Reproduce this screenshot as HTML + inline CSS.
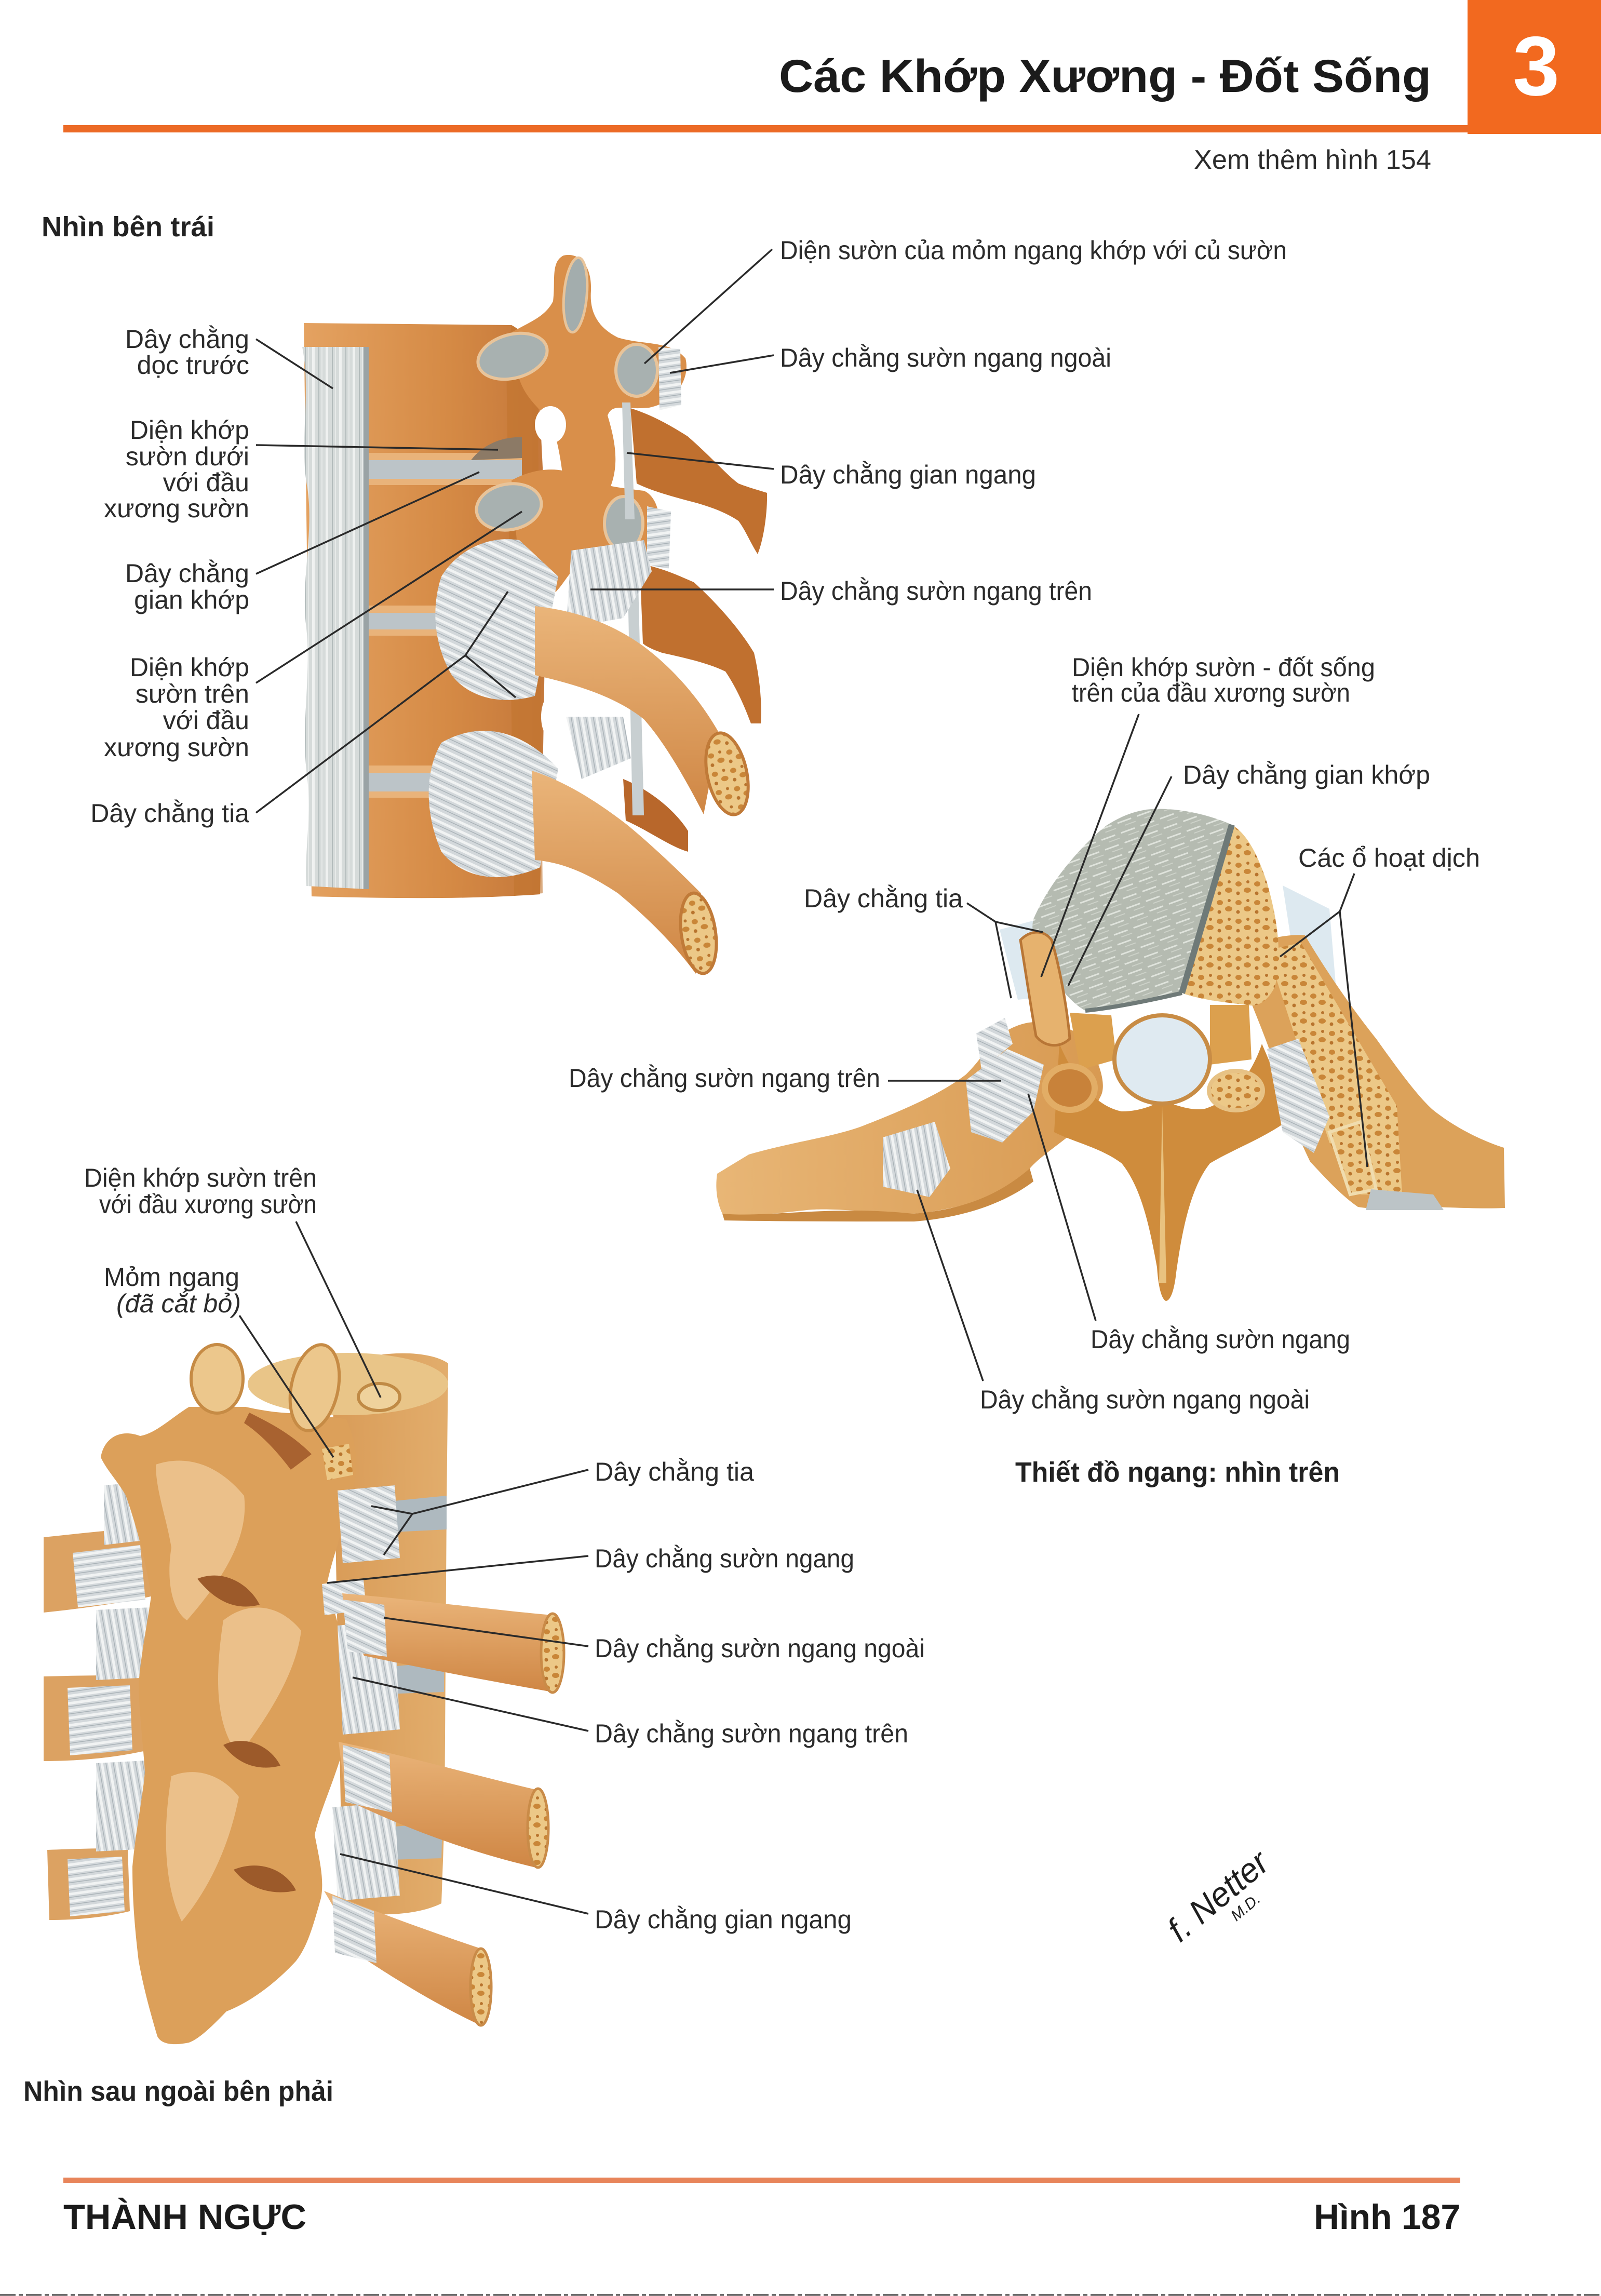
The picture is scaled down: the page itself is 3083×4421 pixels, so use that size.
<!DOCTYPE html>
<html><head><meta charset="utf-8"><style>
html,body{margin:0;padding:0;background:#fff}
svg{display:block}
text{font-family:"Liberation Sans",Arial,sans-serif}
</style></head><body>
<svg width="3083" height="4421" viewBox="0 0 3083 4421" xmlns="http://www.w3.org/2000/svg">
<defs>
<pattern id="fib" width="16" height="16" patternUnits="userSpaceOnUse" patternTransform="rotate(25)"><rect width="16" height="16" fill="#d3d8db"/><rect y="2" width="16" height="5" fill="#f1f3f3"/><rect y="11" width="16" height="1.5" fill="#a9b2b7"/></pattern>
<pattern id="fibv" width="14" height="14" patternUnits="userSpaceOnUse" patternTransform="rotate(80)"><rect width="14" height="14" fill="#d3d8db"/><rect y="2" width="14" height="5" fill="#f1f3f3"/><rect y="10" width="14" height="1.5" fill="#a9b2b7"/></pattern>
<pattern id="fibh" width="14" height="14" patternUnits="userSpaceOnUse" patternTransform="rotate(-8)"><rect width="14" height="14" fill="#d3d8db"/><rect y="2" width="14" height="5" fill="#f1f3f3"/><rect y="10" width="14" height="1.5" fill="#a9b2b7"/></pattern>
<pattern id="alig" width="26" height="40" patternUnits="userSpaceOnUse"><rect width="26" height="40" fill="#d6dbda"/><rect x="3" width="5" height="40" fill="#eff1f0"/><rect x="15" width="2" height="40" fill="#b3bcbc"/><rect x="21" width="2" height="40" fill="#e6e9e8"/></pattern>
<pattern id="canc" width="36" height="36" patternUnits="userSpaceOnUse"><rect width="36" height="36" fill="#ecc887"/><ellipse cx="9" cy="10" rx="6" ry="5" fill="#c98638"/><ellipse cx="26" cy="22" rx="7" ry="5" fill="#c98638"/><circle cx="27" cy="6" r="3" fill="#b8742e"/><circle cx="8" cy="28" r="3.5" fill="#b8742e"/></pattern>
<pattern id="disc" width="40" height="20" patternUnits="userSpaceOnUse" patternTransform="rotate(-20)"><rect width="40" height="20" fill="#b5bbb1"/><rect y="4" width="28" height="3" fill="#dfe3dc"/><rect x="12" y="13" width="22" height="2" fill="#ccd1c8"/></pattern>
<linearGradient id="bodyG" x1="0" x2="1" y1="0" y2="0"><stop offset="0" stop-color="#e4a261"/><stop offset="0.6" stop-color="#d58a45"/><stop offset="1" stop-color="#c4773a"/></linearGradient>
<linearGradient id="ribG" x1="0" x2="0" y1="0" y2="1"><stop offset="0" stop-color="#eab57a"/><stop offset="1" stop-color="#cf8644"/></linearGradient>
<linearGradient id="leftP" x1="0" x2="1" y1="0" y2="0"><stop offset="0" stop-color="#e8b676"/><stop offset="1" stop-color="#d89a52"/></linearGradient>
<linearGradient id="colG" x1="0" x2="1" y1="0" y2="0"><stop offset="0" stop-color="#d99c58"/><stop offset="1" stop-color="#e2ad6c"/></linearGradient>
</defs>
<rect width="3083" height="4421" fill="#fff"/>

<!-- HEADER -->
<rect x="2826" y="0" width="257" height="258" fill="#f2691f"/>
<rect x="122" y="241" width="2706" height="14" fill="#ec6a26"/>
<text x="1500" y="177" font-size="89" font-weight="bold" fill="#1b1b1b" textLength="1256" lengthAdjust="spacingAndGlyphs">Các Khớp Xương - Đốt Sống</text>
<text x="2913" y="183" font-size="162" font-weight="bold" fill="#ffffff">3</text>
<text x="2299" y="325" font-size="52" fill="#2b2b2b" textLength="457" lengthAdjust="spacingAndGlyphs">Xem thêm hình 154</text>
<text x="80" y="455" font-size="54" font-weight="bold" fill="#222" textLength="333" lengthAdjust="spacingAndGlyphs">Nhìn bên trái</text>

<!-- ================= TOP-LEFT ILLUSTRATION ================= -->
<g>
<path d="M1214 786 C1260 800 1300 825 1324 840 C1370 880 1400 915 1422 931 C1445 940 1465 945 1477 949 C1478 990 1470 1040 1459 1067 C1445 1045 1435 1020 1422 1003 C1395 985 1365 975 1336 967 C1290 955 1255 945 1226 931 Z" fill="#c0702f"/>
<path d="M1232 1085 C1280 1095 1310 1110 1336 1121 C1390 1170 1430 1220 1452 1257 C1462 1300 1468 1350 1465 1393 L1446 1393 C1430 1350 1415 1320 1397 1293 C1360 1275 1310 1265 1275 1257 C1255 1250 1245 1245 1238 1239 Z" fill="#c0702f"/>
<path d="M1200 1500 C1250 1520 1300 1560 1325 1600 L1325 1640 C1290 1630 1250 1600 1205 1580 Z" fill="#b8672b"/>
<path d="M585 622 L985 626 C1010 640 1030 660 1035 700 L1045 900 L1050 1200 L1045 1500 L1040 1722 C900 1732 760 1730 600 1726 Z" fill="url(#bodyG)"/>
<path d="M985 626 C1010 640 1030 660 1035 700 L1045 1720 L990 1725 L975 700 Z" fill="#c2742f" opacity="0.6"/>
<rect x="705" y="872" width="300" height="14" fill="#e9b37a"/>
<rect x="705" y="922" width="300" height="12" fill="#e9b37a"/>
<rect x="705" y="1166" width="290" height="14" fill="#e9b37a"/>
<rect x="705" y="1212" width="290" height="12" fill="#e9b37a"/>
<rect x="705" y="1474" width="280" height="14" fill="#e9b37a"/>
<rect x="705" y="1524" width="280" height="12" fill="#e9b37a"/>
<rect x="705" y="886" width="300" height="36" fill="#bcc4c8"/>
<rect x="705" y="1180" width="290" height="32" fill="#bcc4c8"/>
<rect x="705" y="1488" width="280" height="36" fill="#bcc4c8"/>
<path d="M582 668 C600 760 575 850 592 940 C605 1030 578 1120 590 1210 C600 1300 578 1400 592 1500 C600 1580 585 1650 590 1706 L705 1712 L705 668 Z" fill="url(#alig)"/>
<path d="M700 668 L710 668 L710 1712 L700 1712 Z" fill="#9aa3a5"/>
<path d="M985 640 C1020 620 1050 610 1065 580 C1070 540 1060 505 1085 492 C1115 485 1140 510 1138 560 C1135 600 1150 630 1190 650 C1240 665 1290 655 1320 690 C1330 730 1300 775 1250 785 C1200 790 1180 775 1170 800 C1185 850 1195 900 1170 950 C1140 970 1100 960 1085 930 C1080 880 1070 820 1050 800 C1030 780 1010 760 1000 730 Z" fill="#d98f4a"/>
<path d="M985 925 C1020 905 1070 895 1110 915 C1150 935 1200 940 1240 945 C1275 960 1280 1030 1250 1070 C1210 1090 1160 1080 1130 1080 C1100 1090 1090 1120 1070 1140 C1050 1100 1020 1060 995 1040 Z" fill="#d98f4a"/>
<path d="M1268 668 L1310 672 L1312 780 L1270 790 Z" fill="url(#fibh)"/>
<path d="M1246 975 L1292 985 L1288 1095 L1246 1088 Z" fill="url(#fibh)"/>
<ellipse cx="987" cy="686" rx="68" ry="42" transform="rotate(-15 987 686)" fill="#a8b1b0" stroke="#e8c49a" stroke-width="6"/>
<ellipse cx="1226" cy="713" rx="40" ry="50" fill="#a8b1b0" stroke="#e8c49a" stroke-width="6"/>
<ellipse cx="980" cy="976" rx="63" ry="44" transform="rotate(-10 980 976)" fill="#a8b1b0" stroke="#e8c49a" stroke-width="6"/>
<ellipse cx="1201" cy="1008" rx="37" ry="52" fill="#a8b1b0" stroke="#e8c49a" stroke-width="6"/>
<ellipse cx="1108" cy="568" rx="22" ry="72" transform="rotate(5 1108 568)" fill="#a3adad" stroke="#e8c49a" stroke-width="5"/>
<path d="M907 886 C930 855 970 840 1005 842 L1005 882 Z" fill="#8c7a66"/>
<ellipse cx="1060" cy="818" rx="30" ry="36" fill="#ffffff"/>
<ellipse cx="1066" cy="1380" rx="24" ry="46" fill="#ffffff"/>
<path d="M1198 775 L1214 775 L1222 1000 L1204 1000 Z" fill="#c8cfd1"/>
<path d="M1208 1080 L1228 1080 L1240 1570 L1218 1570 Z" fill="#c8cfd1"/>
<path d="M1075 1110 L1000 1040 C940 1030 880 1060 850 1110 C830 1170 835 1240 870 1300 C900 1340 960 1360 1030 1340 Z" fill="url(#fib)"/>
<path d="M1075 1480 C1000 1400 920 1390 850 1430 C820 1480 815 1560 850 1640 C890 1690 960 1705 1040 1670 Z" fill="url(#fib)"/>
<path d="M1100 1060 L1240 1040 L1255 1100 L1200 1190 L1090 1210 Z" fill="url(#fibv)"/>
<path d="M1090 1380 L1200 1380 L1215 1460 L1120 1500 Z" fill="url(#fibv)"/>
<path d="M1030 1167 C1100 1175 1171 1195 1240 1245 C1300 1290 1350 1350 1385 1412 L1355 1568 C1320 1500 1280 1430 1240 1385 C1190 1345 1120 1320 1030 1300 Z" fill="url(#ribG)"/>
<ellipse cx="1400" cy="1490" rx="38" ry="80" transform="rotate(-12 1400 1490)" fill="url(#canc)" stroke="#c07a38" stroke-width="6"/>
<path d="M1024 1484 C1090 1505 1152 1545 1210 1590 C1270 1640 1320 1690 1350 1720 L1340 1875 C1300 1820 1250 1770 1190 1720 C1130 1680 1080 1660 1030 1656 Z" fill="url(#ribG)"/>
<ellipse cx="1345" cy="1797" rx="33" ry="78" transform="rotate(-8 1345 1797)" fill="url(#canc)" stroke="#c07a38" stroke-width="6"/>
</g>

<g font-size="50" fill="#2b2b2b" text-anchor="end">
<text x="480" y="670">Dây chằng</text>
<text x="480" y="720">dọc trước</text>
<text x="480" y="845">Diện khớp</text>
<text x="480" y="896">sườn dưới</text>
<text x="480" y="946">với đầu</text>
<text x="480" y="996">xương sườn</text>
<text x="480" y="1121">Dây chằng</text>
<text x="480" y="1172">gian khớp</text>
<text x="480" y="1302">Diện khớp</text>
<text x="480" y="1353">sườn trên</text>
<text x="480" y="1404">với đầu</text>
<text x="480" y="1456">xương sườn</text>
<text x="480" y="1583">Dây chằng tia</text>
</g>
<g font-size="50" fill="#2b2b2b">
<text x="1502" y="499" textLength="976" lengthAdjust="spacingAndGlyphs">Diện sườn của mỏm ngang khớp với củ sườn</text>
<text x="1502" y="706" textLength="638" lengthAdjust="spacingAndGlyphs">Dây chằng sườn ngang ngoài</text>
<text x="1502" y="931" textLength="493" lengthAdjust="spacingAndGlyphs">Dây chằng gian ngang</text>
<text x="1502" y="1155" textLength="601" lengthAdjust="spacingAndGlyphs">Dây chằng sườn ngang trên</text>
</g>
<g stroke="#2a2a2a" stroke-width="3.5" fill="none">
<path d="M493 653 L641 748"/>
<path d="M493 857 L959 866"/>
<path d="M493 1105 L923 909"/>
<path d="M493 1315 L1005 985"/>
<path d="M493 1565 L896 1262 L978 1139 M896 1262 L993 1343"/>
<path d="M1487 480 L1241 700"/>
<path d="M1490 684 L1290 718"/>
<path d="M1490 903 L1207 872"/>
<path d="M1490 1135 L1137 1135"/>
</g>

<!-- ================= MIDDLE ILLUSTRATION ================= -->
<g>
<path d="M1925 1790 L2000 1770 L2010 1920 L1960 1925 Z" fill="#dde9f0"/>
<path d="M2470 1705 L2560 1750 L2578 1965 L2500 1900 Z" fill="#dde9f0"/>
<path d="M1442 2223 C1520 2200 1600 2190 1656 2170 C1760 2130 1820 2100 1860 2069 C1890 2040 1905 2010 1921 1996 C1950 1975 1980 1965 2003 1969 C2050 1975 2080 1985 2095 2010 C2120 2050 2130 2090 2120 2110 C2100 2150 2080 2170 2064 2183 C2030 2210 2000 2230 1983 2250 C1960 2280 1940 2300 1921 2304 C1860 2320 1800 2335 1758 2337 C1680 2335 1600 2325 1554 2330 C1480 2338 1420 2345 1391 2337 C1378 2310 1378 2280 1381 2260 Z" fill="url(#leftP)"/>
<path d="M1391 2337 C1480 2345 1600 2320 1758 2337 C1850 2330 1920 2304 1983 2250 L1990 2275 C1930 2320 1850 2345 1760 2352 C1650 2352 1500 2352 1395 2350 Z" fill="#c98a42"/>
<path d="M1860 2080 L1940 2020 L2010 2050 L1990 2140 L1930 2200 L1870 2180 Z" fill="url(#fib)"/>
<path d="M1700 2190 L1800 2160 L1830 2250 L1790 2305 L1700 2285 Z" fill="url(#fibv)"/>
<path d="M1880 1990 L1935 1960 L1950 2010 L1890 2060 Z" fill="url(#fib)"/>
<path d="M2040 2010 C2070 2080 2110 2130 2160 2140 C2200 2140 2225 2125 2238 2120 C2260 2125 2290 2140 2320 2135 C2370 2120 2410 2070 2430 2010 L2490 2150 C2440 2190 2380 2210 2330 2240 C2290 2290 2275 2380 2265 2450 C2262 2480 2255 2505 2245 2505 C2235 2500 2230 2470 2228 2440 C2215 2370 2200 2290 2160 2240 C2120 2210 2070 2200 2030 2180 Z" fill="#cf8c3c"/>
<path d="M2238 2130 L2246 2470 L2232 2470 Z" fill="#e9c27f"/>
<path d="M2421 1815 C2450 1805 2490 1798 2513 1801 C2560 1880 2610 1950 2650 2000 C2700 2070 2730 2110 2758 2136 C2800 2170 2850 2195 2896 2210 L2898 2326 C2850 2328 2800 2325 2758 2324 C2700 2328 2650 2330 2615 2324 C2580 2300 2545 2260 2523 2237 C2500 2190 2485 2150 2472 2103 C2450 2030 2425 1970 2411 1935 Z" fill="#dca25a"/>
<path d="M2440 1830 L2505 1815 L2690 2130 L2700 2300 L2620 2300 L2560 2200 Z" fill="url(#canc)"/>
<path d="M2560 2180 L2620 2160 L2650 2290 L2600 2300 Z" fill="url(#canc)" stroke="#f0dcae" stroke-width="6"/>
<path d="M2440 2020 L2500 2000 L2560 2150 L2530 2220 L2470 2180 Z" fill="url(#fib)"/>
<path d="M2640 2290 L2760 2300 L2780 2330 L2630 2330 Z" fill="#bcc4c7"/>
<path d="M2217 1558 C2260 1555 2320 1565 2372 1588 L2276 1912 C2220 1925 2150 1940 2090 1946 C2060 1930 2030 1890 2010 1850 C1990 1810 1985 1790 1990 1770 C2020 1700 2080 1630 2130 1590 C2160 1570 2190 1560 2217 1558 Z" fill="url(#disc)"/>
<path d="M2372 1588 C2400 1605 2420 1640 2440 1700 C2460 1770 2470 1840 2455 1900 C2440 1930 2420 1940 2400 1935 C2360 1930 2310 1925 2276 1912 Z" fill="url(#canc)"/>
<path d="M2372 1588 L2276 1912" stroke="#6f7a78" stroke-width="12"/>
<path d="M2090 1946 C2150 1940 2220 1925 2276 1912" stroke="#6f7a78" stroke-width="8" fill="none"/>
<path d="M1965 1810 C1985 1790 2010 1790 2025 1810 C2040 1860 2055 1940 2060 2000 C2040 2020 2010 2015 1995 1995 C1985 1940 1975 1870 1965 1810 Z" fill="#e6b26e" stroke="#b87636" stroke-width="5"/>
<path d="M2060 1950 L2140 1955 L2150 2040 L2080 2060 Z" fill="#dca04e"/>
<path d="M2330 1935 L2405 1935 L2410 2040 L2330 2050 Z" fill="#dca04e"/>
<ellipse cx="2238" cy="2040" rx="92" ry="85" fill="#dfeaf1" stroke="#c88c45" stroke-width="8"/>
<ellipse cx="2060" cy="2095" rx="48" ry="42" fill="#c8823a" stroke="#e2ad66" stroke-width="12"/>
<ellipse cx="2380" cy="2100" rx="52" ry="38" fill="url(#canc)" stroke="#e7c285" stroke-width="8"/>
</g>

<g font-size="50" fill="#2b2b2b">
<text x="2064" y="1302" textLength="584" lengthAdjust="spacingAndGlyphs">Diện khớp sườn - đốt sống</text>
<text x="2064" y="1351" textLength="536" lengthAdjust="spacingAndGlyphs">trên của đầu xương sườn</text>
<text x="2278" y="1509" textLength="476" lengthAdjust="spacingAndGlyphs">Dây chằng gian khớp</text>
<text x="2500" y="1669" textLength="350" lengthAdjust="spacingAndGlyphs">Các ổ hoạt dịch</text>
<text x="1548" y="1747" textLength="306" lengthAdjust="spacingAndGlyphs">Dây chằng tia</text>
<text x="1095" y="2093" textLength="600" lengthAdjust="spacingAndGlyphs">Dây chằng sườn ngang trên</text>
<text x="2100" y="2596" textLength="500" lengthAdjust="spacingAndGlyphs">Dây chằng sườn ngang</text>
<text x="1887" y="2712" textLength="635" lengthAdjust="spacingAndGlyphs">Dây chằng sườn ngang ngoài</text>
</g>
<text x="1955" y="2853" font-size="54" font-weight="bold" fill="#222" textLength="625" lengthAdjust="spacingAndGlyphs">Thiết đồ ngang: nhìn trên</text>
<g stroke="#2a2a2a" stroke-width="3.5" fill="none">
<path d="M2193 1375 L2005 1881"/>
<path d="M2256 1495 L2057 1898"/>
<path d="M2608 1682 L2580 1755 L2465 1842 M2580 1755 L2633 2247"/>
<path d="M1862 1739 L1917 1775 L2008 1795 M1917 1775 L1947 1922"/>
<path d="M1710 2081 L1928 2081"/>
<path d="M2110 2543 L1980 2106"/>
<path d="M1893 2659 L1766 2291"/>
</g>

<!-- ================= BOTTOM-LEFT ILLUSTRATION ================= -->
<g>
<text x="610" y="2285" font-size="50" fill="#2b2b2b" text-anchor="end" textLength="448" lengthAdjust="spacingAndGlyphs">Diện khớp sườn trên</text>
<text x="610" y="2336" font-size="50" fill="#2b2b2b" text-anchor="end" textLength="419" lengthAdjust="spacingAndGlyphs">với đầu xương sườn</text>
<text x="461" y="2476" font-size="50" fill="#2b2b2b" text-anchor="end" textLength="261" lengthAdjust="spacingAndGlyphs">Mỏm ngang</text>
<text x="464" y="2527" font-size="50" font-style="italic" fill="#2b2b2b" text-anchor="end" textLength="240" lengthAdjust="spacingAndGlyphs">(đã cắt bỏ)</text>

<path d="M84 2960 C180 2950 280 2938 351 2940 L345 3060 C280 3080 180 3095 84 3105 Z" fill="#dca262"/>
<path d="M84 3228 C160 3226 230 3225 281 3228 L285 3370 C220 3385 150 3391 84 3391 Z" fill="#dca262"/>
<path d="M91 3562 C150 3560 200 3558 246 3560 L250 3680 C200 3692 150 3697 95 3697 Z" fill="#dca262"/>
<path d="M140 2990 L270 2975 L280 3080 L150 3095 Z" fill="url(#fibh)"/>
<path d="M130 3250 L250 3245 L255 3370 L135 3380 Z" fill="url(#fibh)"/>
<path d="M130 3580 L235 3575 L240 3680 L135 3690 Z" fill="url(#fibh)"/>
<path d="M200 2860 L330 2850 L330 2960 L200 2975 Z" fill="url(#fibv)"/>
<path d="M185 3100 L290 3095 L290 3230 L185 3235 Z" fill="url(#fibv)"/>
<path d="M185 3395 L280 3390 L280 3560 L185 3565 Z" fill="url(#fibv)"/>

<path d="M640 2640 C700 2600 820 2595 863 2625 L860 2900 L858 3200 L856 3500 L850 3665 C800 3690 720 3690 660 3680 Z" fill="url(#colG)"/>
<ellipse cx="670" cy="2665" rx="193" ry="60" fill="#e9c588"/>
<ellipse cx="730" cy="2690" rx="40" ry="26" fill="#efd29c" stroke="#c08a45" stroke-width="6"/>
<path d="M760 2890 L860 2880 L860 2945 L760 2950 Z" fill="#aeb9bf"/>
<path d="M740 3210 L855 3200 L855 3258 L740 3262 Z" fill="#aeb9bf"/>
<path d="M720 3520 L852 3510 L850 3578 L720 3582 Z" fill="#aeb9bf"/>

<path d="M194 2806 C200 2770 230 2750 270 2765 C300 2760 330 2730 364 2709 L473 2709 C500 2715 530 2720 558 2721 C600 2725 640 2728 667 2733 C690 2790 690 2830 679 2867 C660 2950 640 3000 630 3048 C650 3130 680 3220 679 3291 C660 3400 620 3470 606 3533 C615 3580 625 3620 618 3655 C600 3720 590 3750 570 3776 C520 3830 470 3860 436 3873 C410 3900 385 3925 364 3933 C330 3940 310 3935 303 3921 C285 3860 275 3820 267 3776 C258 3700 255 3650 255 3594 C262 3520 275 3460 279 3412 C275 3350 268 3300 267 3242 C272 3180 285 3120 291 3073 C280 3000 260 2930 242 2879 C225 2850 205 2830 194 2806 Z" fill="#dca05a"/>
<path d="M300 2820 C360 2800 420 2820 470 2880 C480 2960 430 3040 360 3120 C330 3100 320 3040 330 2980 C320 2920 300 2870 300 2820 Z" fill="#ebc08a"/>
<path d="M430 3120 C480 3080 540 3090 580 3140 C570 3220 520 3300 460 3380 C420 3330 410 3250 430 3120 Z" fill="#ebc08a"/>
<path d="M330 3420 C380 3400 430 3420 460 3460 C440 3560 400 3640 350 3700 C320 3640 310 3540 330 3420 Z" fill="#ebc08a"/>
<path d="M380 3040 C430 3020 480 3050 500 3090 C460 3100 420 3090 380 3040 Z" fill="#9c5a2a"/>
<path d="M430 3360 C470 3340 520 3360 540 3400 C500 3410 460 3400 430 3360 Z" fill="#9c5a2a"/>
<path d="M450 3600 C500 3580 550 3600 570 3640 C530 3650 480 3640 450 3600 Z" fill="#9c5a2a"/>
<path d="M480 2720 C520 2740 560 2760 600 2800 L560 2830 C530 2790 500 2760 470 2740 Z" fill="#a86230"/>
<ellipse cx="418" cy="2655" rx="50" ry="66" fill="#ecc78c" stroke="#c68b45" stroke-width="6"/>
<ellipse cx="606" cy="2672" rx="45" ry="84" transform="rotate(12 606 2672)" fill="#ecc78c" stroke="#c68b45" stroke-width="6"/>
<path d="M620 2790 L672 2780 L680 2840 L630 2850 Z" fill="url(#canc)"/>

<path d="M650 2870 L760 2860 L770 3000 L660 3010 Z" fill="url(#fib)"/>
<path d="M620 3050 L700 3040 L705 3100 L625 3110 Z" fill="url(#fib)"/>
<path d="M650 3130 L760 3120 L770 3330 L660 3340 Z" fill="url(#fibv)"/>
<path d="M640 3480 L760 3470 L770 3650 L650 3660 Z" fill="url(#fibv)"/>

<path d="M659 3068 C800 3080 950 3100 1064 3110 L1064 3258 C960 3240 800 3210 701 3188 C680 3150 665 3110 659 3068 Z" fill="url(#ribG)"/>
<ellipse cx="1064" cy="3183" rx="22" ry="76" fill="url(#canc)" stroke="#c98b48" stroke-width="5"/>
<path d="M652 3354 C780 3380 920 3420 1036 3447 L1036 3597 C920 3570 800 3530 666 3465 Z" fill="url(#ribG)"/>
<ellipse cx="1036" cy="3520" rx="20" ry="76" fill="url(#canc)" stroke="#c98b48" stroke-width="5"/>
<path d="M624 3641 C720 3680 830 3720 926 3752 L926 3900 C840 3860 760 3810 701 3771 Z" fill="url(#ribG)"/>
<ellipse cx="926" cy="3826" rx="20" ry="74" fill="url(#canc)" stroke="#c98b48" stroke-width="5"/>
<path d="M660 3080 L740 3090 L745 3190 L670 3180 Z" fill="url(#fib)"/>
<path d="M660 3360 L750 3380 L755 3490 L665 3470 Z" fill="url(#fib)"/>
<path d="M640 3650 L720 3680 L725 3780 L645 3760 Z" fill="url(#fib)"/>
</g>

<g font-size="50" fill="#2b2b2b">
<text x="1145" y="2851" textLength="307" lengthAdjust="spacingAndGlyphs">Dây chằng tia</text>
<text x="1145" y="3018" textLength="500" lengthAdjust="spacingAndGlyphs">Dây chằng sườn ngang</text>
<text x="1145" y="3191" textLength="636" lengthAdjust="spacingAndGlyphs">Dây chằng sườn ngang ngoài</text>
<text x="1145" y="3355" textLength="604" lengthAdjust="spacingAndGlyphs">Dây chằng sườn ngang trên</text>
<text x="1145" y="3713" textLength="495" lengthAdjust="spacingAndGlyphs">Dây chằng gian ngang</text>
</g>
<text x="45" y="4045" font-size="54" font-weight="bold" fill="#222" textLength="597" lengthAdjust="spacingAndGlyphs">Nhìn sau ngoài bên phải</text>
<g stroke="#2a2a2a" stroke-width="3.5" fill="none">
<path d="M570 2352 L733 2691"/>
<path d="M461 2533 L642 2806"/>
<path d="M1133 2830 L794 2915 L715 2900 M794 2915 L739 2994"/>
<path d="M1133 2996 L630 3048"/>
<path d="M1133 3170 L739 3115"/>
<path d="M1133 3333 L679 3230"/>
<path d="M1133 3685 L655 3570"/>
</g>

<g transform="translate(2272 3742) rotate(-40)">
<text x="0" y="0" font-family="Liberation Serif" font-style="italic" font-size="66" fill="#1e1e1e" textLength="230" lengthAdjust="spacingAndGlyphs">f. Netter</text>
<text x="110" y="38" font-family="Liberation Serif" font-style="italic" font-size="30" fill="#1e1e1e">M.D.</text>
</g>

<rect x="122" y="4193" width="2690" height="10" fill="#e8855a"/>
<text x="122" y="4292" font-size="68" font-weight="bold" fill="#1b1b1b" textLength="468" lengthAdjust="spacingAndGlyphs">THÀNH NGỰC</text>
<text x="2530" y="4292" font-size="68" font-weight="bold" fill="#1b1b1b" textLength="282" lengthAdjust="spacingAndGlyphs">Hình 187</text>
<line x1="0" y1="4419" x2="3083" y2="4419" stroke="#444" stroke-width="3" stroke-dasharray="30 6 8 6"/>
</svg>
</body></html>
